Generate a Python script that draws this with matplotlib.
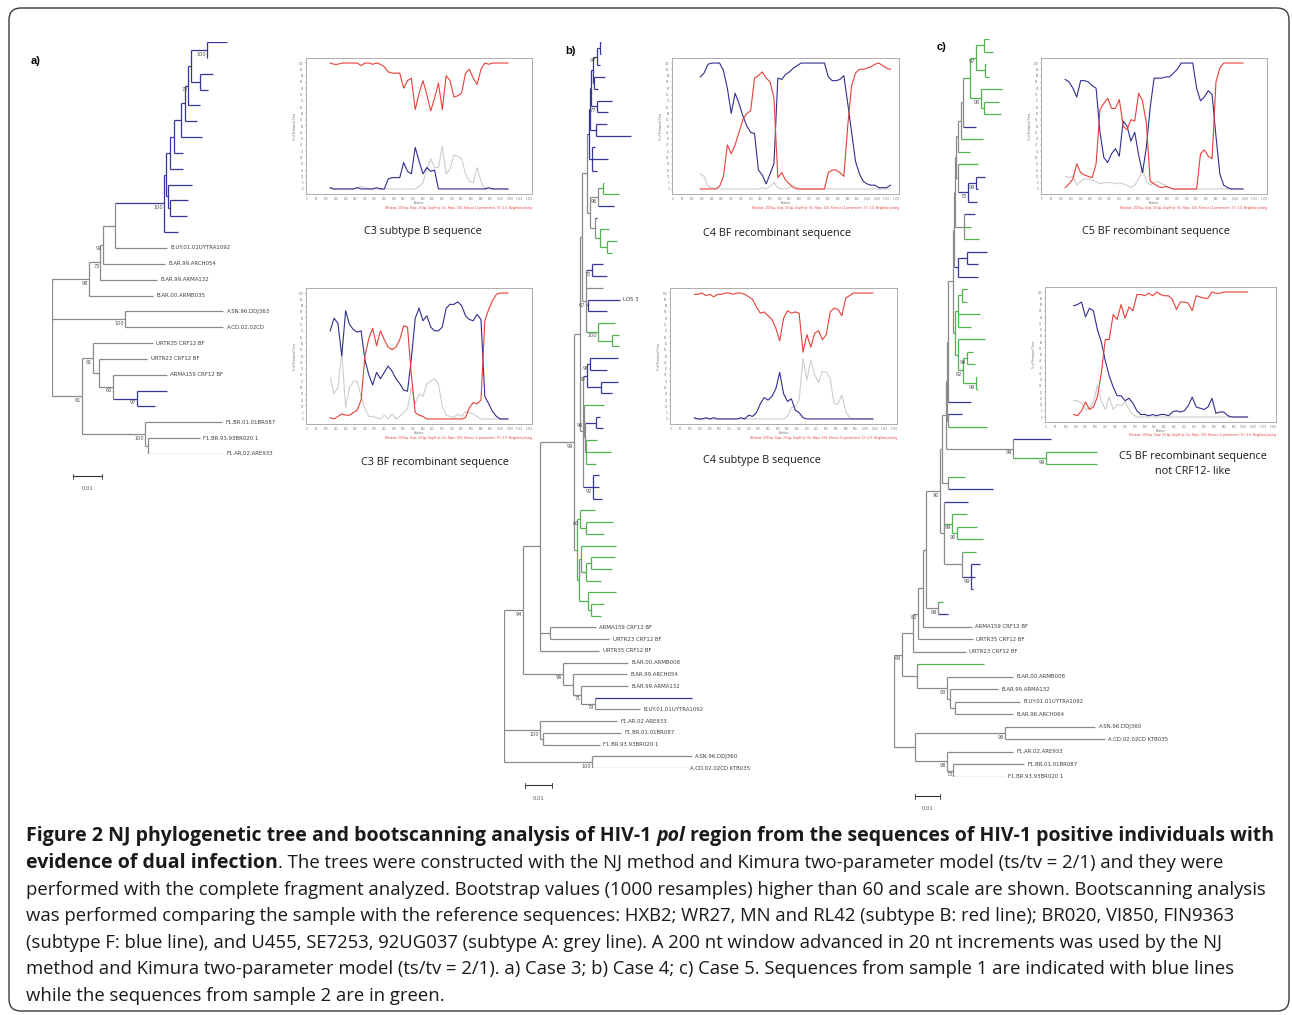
import matplotlib
matplotlib.use('Agg')
import matplotlib.pyplot as plt
from matplotlib import font_manager
from matplotlib.patches import FancyBboxPatch

W, H = 1292, 1015

# ---------------- trees (newick, branch lengths in 0.001 subst./site) ----------------
# '*' leaf = sample 1 (blue), '+' leaf = sample 2 (green), named leaves are references
A_BLUE = ("(((((((((*:6.9,*:0.2)100:5.5,(*:4.5,*:2.8):3.1):1,*:4.1)73:1,*:4.1):1.4,*:7.2):2.4,"
          "*:3.1):1.4,*:4.5):1.4,(*:8.3,(*:6.2,*:5.9):0.7):0.7):0.7,*:4.8)100:16.9")
TREE_A = ("(((((" + A_BLUE + ",B.UY.01.01UYTRA1092:17.9):4.1,B.AR.99.ARCH054:21.4)92:1,"
          "B.AR.99.ARMA132:19.7)73:3.8,B.AR.00.ARMB035:22)98:12.8,"
          "(A.SN.96.DDJ363:33.8,A.CD.02.02CD:33.8)100:25.2,"
          "((URTR35 CRF12 BF:20.7,(URTR23 CRF12 BF:16.6,(ARMA159 CRF12 BF:18.6,(*:10.3,*:6.2)97:8.3)60:4.8):2.1)81:3.8,"
          "(F1.BR.01.01BR087:26.6,(F1.BR.93.93BR020 1:17.9,F1.AR.02.ARE933:25.9):1)100:21.7)61:10.3);")

B_U3 = ("((((((*:0.4,*:0.4):1.1,*:1.1)97:1.5,(*:4.1,*:1.5):0.4):0.7,(*:5.6,*:4.1)77:2.2):0.4,"
        "(*:4.1,*:13):2.2):0.4,(*:1.1,*:5.9,*:1.9):1.1):0.7")
B_14_20 = "(((+:0.3,+:5.9):1.9,*:5.9)96:3,(*:0.7,(+:3.3,(+:3.7,+:1.9):2.6):1.9):1.9):1.1"
B_21_28 = "((*:4.1,*:5.6)73:2.2,:6.3,(*LOS 3:11.9,*:7):0.7,(+:6.3,(+:2.6,+:2.6):5.2)100:4.4)67:1.5"
B_LOW = ("(((*:10.4,*:6.3)96:1.1,(*:6.3,*:4.1):5.2)92:1.5,(+:7.4,((*:1.5,*:2.6):4.1,"
         "(+:4.1,+:9.3,+:3.7):0.4):0.4)96:0.4,(*:2.2,*:2.2,*:3.3)92:3.7):1.1")
B_GREEN = "((+:5.6,(+:10,+:6.7):2.2)60:1.1,((+:13,((+:8.9,+:7.8):1.9,+:5.6):1.9):0.7,(+:10.4,(+:4.8,+:3.7):1.1):3.3):0.7):1.1"
B_MAIN = "((((" + B_U3 + "," + B_14_20 + "):1.9," + B_21_28 + "):0.7," + B_LOW + "):2.2," + B_GREEN + ")99:12.6"
TREE_B = ("(((" + B_MAIN + ",(ARMA159 CRF12 BF:17,URTR23 CRF12 BF:22):3.7,URTR35 CRF12 BF:22):6.3,"
          "(B.AR.00.ARMB008:24,(B.AR.99.ARCH054:20,(B.AR.99.ARMA132:17.4,(*:36,B.UY.01.01UYTRA1092:16.7)79:5.2)71:3):3.7)96:14.8)94:7,"
          "(F1.AR.02.ARE933:28.5,(F1.BR.01.01BR087:29,F1.BR.93.93BR020 1:21):1.1)100:13.3,"
          "(A.SN.96.DDJ360:37,A.CD.02.02CD KTB035:35)100:32.6);")

C_TOP = "(((+:2,+:3.6):3.2,(+:0.4,+:1.6):3.6)97:2.4,(+:8.4,(+:6,+:6.8):1.2)90:4.4):2.8"
C_11_14 = "(+:8,((*:3.6,*:0.8)99:3.2,*:3.6)73:4):0.8"
C_15_20 = ["(*:4.4,+:2.8,+:6):3.6", "((*:8,*:4.4):3.6,*:8):1.6"]
C_21_29 = "(((+:2,+:2):1.6,+:8.8,+:5.2):1.2,(+:10.8,((+:2.4,+:3.2)99:1.6,(+:0.4,+:0.8)99:5.2)62:2):1.2):0.8"
C_34_36 = "(*:15.2,(+:20.4,+:20.4)99:13.2)99:26.8"
C_LOW = "(*:9.6,(+:6,(+:8,+:10.4)90:2)99:3.2,(+:5.6,(*:3.6,*:1.6,*:0.8)99:3.6):7.2):1.6"
C_MAIN = ("((((((((((((" + C_TOP + ",*:5.2):0.8,+:8.8):1.2,+:4.8):0.8," + C_11_14 + "):0.4,"
          + C_15_20[0] + "):0.4," + C_15_20[1] + "):0.2," + C_21_29 + "):2,*:9.2):0.4,(*:5.6,+:15.6):0.4):0.4,"
          + C_34_36 + "):1.6,(+:6.8,*:18):2.4):0.8," + C_LOW + ")90:5.6")
TREE_C = ("((((((" + C_MAIN + ",(+:2,*:4)99:4.8):1.2,ARMA159 CRF12 BF:19.6):2,URTR35 CRF12 BF:22)80:2,"
          "URTR23 CRF12 BF:21.2):4.4,(+:26.8,(B.AR.00.ARMB008:26.4,(B.AR.99.ARMA132:19.2,"
          "(B.UY.01.01UYTRA1092:26,B.AR.96.ARCH064:23.2):2):1.2)93:12):6)64:3.2,"
          "((A.SN.96.DDJ360:36,A.CD.02.02CD KTB035:40)99:36,(F1.AR.02.ARE933:26.4,"
          "(F1.BR.01.01BR087:28.4,F1.BR.93.93BR020 1:20.8)73:2.4)98:12.8):8.4);")

# ---------------- bootscan data (% of permuted trees) ----------------
POS_A = list(range(120, 1041, 20))
POS_C4BF = list(range(140, 1121, 20))
POS_C5NC = list(range(140, 1021, 20))

C3B_red = [100, 99, 99, 100, 100, 100, 100, 100, 98, 100, 100, 99, 100, 99, 97, 93, 92, 92, 92, 80,
           86, 88, 63, 76, 86, 75, 62, 72, 84, 63, 90, 86, 73, 74, 76, 92, 95, 88, 83, 95,
           100, 99, 100, 100, 100, 100, 100]
C3B_blue = [1, 0, 0, 0, 0, 0, 0, 1, 0, 0, 0, 0, 1, 0, 0, 8, 9, 9, 9, 21,
            14, 12, 33, 22, 12, 17, 14, 15, 0, 0, 0, 0, 0, 0, 0, 0, 0, 0, 0, 0,
            0, 1, 0, 0, 0, 0, 0]
C3B_grey = [0, 0, 0, 0, 0, 0, 0, 1, 2, 1, 0, 0, 0, 0, 0, 0, 0, 0, 0, 0,
            0, 0, 0, 2, 5, 16, 24, 17, 17, 34, 12, 16, 27, 26, 24, 12, 6, 5, 17, 6,
            0, 0, 0, 0, 0, 0, 0]

C3BF_red = [1, 0, 2, 4, 3, 3, 5, 7, 15, 50, 64, 72, 58, 70, 63, 57, 55, 57, 63, 74,
            73, 35, 5, 3, 2, 0, 0, 0, 0, 0, 0, 0, 0, 0, 0, 1, 9, 13, 12, 15,
            78, 87, 94, 99, 100, 100, 100]
C3BF_blue = [70, 80, 76, 50, 86, 75, 71, 69, 70, 47, 35, 27, 37, 32, 37, 42, 38, 32, 28, 23,
             22, 48, 80, 88, 78, 82, 73, 70, 70, 73, 88, 91, 91, 93, 90, 82, 79, 78, 83, 79,
             18, 12, 6, 2, 0, 0, 0]
C3BF_grey = [33, 20, 25, 53, 9, 25, 30, 30, 18, 8, 2, 2, 1, 0, 3, 0, 4, 0, 2, 5,
             8, 25, 12, 20, 18, 28, 30, 32, 28, 10, 3, 2, 1, 4, 2, 6, 5, 4, 2, 0,
             0, 0, 0, 0, 0, 0, 0]

C4BF_red = [0, 0, 0, 0, 0, 2, 10, 35, 28, 35, 45, 55, 60, 62, 88, 90, 93, 88, 85, 72,
            9, 13, 7, 4, 1, 0, 0, 0, 0, 0, 0, 0, 0, 13, 15, 15, 13, 10, 50, 82,
            92, 95, 95, 96, 97, 99, 100, 98, 96, 95]
C4BF_blue = [89, 92, 99, 100, 100, 100, 94, 80, 60, 76, 68, 58, 50, 45, 44, 15, 11, 4, 12, 20,
             88, 87, 91, 93, 96, 98, 100, 100, 100, 100, 100, 100, 100, 89, 86, 86, 87, 90, 68, 45,
             22, 12, 6, 4, 3, 3, 1, 1, 1, 3]
C4BF_grey = [12, 10, 2, 1, 0, 0, 0, 0, 0, 0, 0, 0, 0, 0, 0, 0, 1, 0, 2, 5,
             1, 0, 0, 1, 3, 1, 0, 0, 0, 0, 0, 0, 0, 0, 0, 0, 0, 0, 0, 0,
             0, 0, 0, 0, 0, 0, 0, 0, 0, 0]

C4B_red = [99, 99, 100, 98, 99, 97, 99, 99, 100, 100, 99, 100, 100, 99, 97, 95, 89, 84, 85, 82,
           79, 72, 62, 80, 86, 84, 85, 84, 53, 67, 57, 68, 70, 63, 67, 85, 88, 87, 82, 96,
           98, 100, 100, 100, 100, 100, 100]
C4B_blue = [1, 0, 0, 1, 0, 1, 0, 0, 0, 0, 0, 0, 1, 0, 3, 2, 5, 12, 17, 15,
            18, 24, 37, 20, 14, 16, 7, 5, 1, 0, 0, 0, 0, 0, 0, 0, 0, 0, 0, 0,
            0, 0, 0, 0, 0, 0, 0]
C4B_grey = [0, 0, 0, 0, 0, 0, 0, 0, 0, 0, 0, 0, 0, 0, 0, 0, 0, 0, 0, 0,
            0, 0, 0, 0, 2, 9, 10, 15, 48, 31, 47, 35, 29, 38, 37, 32, 12, 12, 19, 6,
            1, 0, 0, 0, 0, 0, 0]

C5BF_red = [1, 4, 8, 20, 13, 11, 10, 9, 20, 63, 68, 72, 64, 64, 71, 50, 47, 55, 54, 76,
            70, 52, 6, 4, 2, 1, 2, 1, 0, 0, 0, 0, 0, 0, 0, 28, 31, 26, 24, 85,
            96, 100, 100, 100, 100, 100, 100]
C5BF_blue = [87, 85, 80, 73, 86, 86, 85, 82, 80, 45, 25, 21, 28, 32, 26, 54, 50, 38, 45, 27,
             13, 33, 65, 88, 88, 88, 89, 89, 92, 95, 100, 100, 100, 100, 80, 70, 73, 78, 75, 42,
             12, 3, 1, 0, 0, 0, 0]
C5BF_grey = [10, 9, 10, 3, 6, 8, 8, 7, 6, 4, 5, 5, 5, 4, 5, 4, 3, 1, 3, 8,
             16, 6, 3, 5, 6, 4, 3, 1, 0, 0, 0, 0, 0, 0, 0, 0, 0, 0, 0, 0,
             0, 0, 0, 0, 0, 0, 0]

C5NC_red = [2, 1, 5, 12, 6, 8, 16, 35, 62, 62, 82, 78, 90, 79, 88, 85, 98, 98, 97, 99,
            97, 100, 98, 97, 97, 94, 86, 92, 92, 91, 85, 97, 96, 95, 95, 100, 99, 99, 100, 100,
            100, 100, 100, 100, 100]
C5NC_blue = [89, 90, 92, 80, 87, 85, 70, 60, 45, 33, 24, 17, 17, 13, 15, 11, 5, 2, 2, 1,
             2, 1, 2, 2, 1, 4, 5, 4, 5, 9, 16, 8, 7, 6, 8, 15, 3, 4, 4, 1,
             0, 0, 0, 0, 0]
C5NC_grey = [13, 13, 11, 6, 7, 12, 25, 13, 6, 16, 6, 10, 9, 12, 6, 2, 0, 0, 0, 0,
             0, 0, 0, 0, 0, 0, 0, 0, 0, 0, 0, 0, 0, 0, 0, 0, 0, 0, 0, 0,
             0, 0, 0, 0, 0]

FOOTNOTE = "Window: 200 bp, Step: 20 bp, GapStrip: On, Reps: 100, Kimura (2-parameter), T/t: 2.0, Neighbor-Joining"

CAPTION = [
    [("Figure 2 NJ phylogenetic tree and bootscanning analysis of HIV-1 ", "bold", "normal"),
     ("pol", "bold", "italic"),
     (" region from the sequences of HIV-1 positive individuals with", "bold", "normal")],
    [("evidence of dual infection", "bold", "normal"),
     (". The trees were constructed with the NJ method and Kimura two-parameter model (ts/tv = 2/1) and they were", "normal", "normal")],
    [("performed with the complete fragment analyzed. Bootstrap values (1000 resamples) higher than 60 and scale are shown. Bootscanning analysis", "normal", "normal")],
    [("was performed comparing the sample with the reference sequences: HXB2; WR27, MN and RL42 (subtype B: red line); BR020, VI850, FIN9363", "normal", "normal")],
    [("(subtype F: blue line), and U455, SE7253, 92UG037 (subtype A: grey line). A 200 nt window advanced in 20 nt increments was used by the NJ", "normal", "normal")],
    [("method and Kimura two-parameter model (ts/tv = 2/1). a) Case 3; b) Case 4; c) Case 5. Sequences from sample 1 are indicated with blue lines", "normal", "normal")],
    [("while the sequences from sample 2 are in green.", "normal", "normal")],
]


def have(fam):
    try:
        font_manager.findfont(fam, fallback_to_default=False)
        return True
    except Exception:
        return False

NARROW = 'Liberation Sans Narrow' if have('Liberation Sans Narrow') else 'DejaVu Sans'
CAPF = 'Open Sans' if have('Open Sans') else 'DejaVu Sans'

TREE_COL = {'b': '#35359a', 'g': '#4fb34f', 'r': '#8a8a8a'}
RED, BLUE, GREY = '#e5403a', '#2f2f8e', '#cdcdcd'


def parse(s):
    pos = 0

    def node():
        nonlocal pos
        while s[pos] == ' ':
            pos += 1
        kids = []
        if s[pos] == '(':
            pos += 1
            kids.append(node())
            while s[pos] == ',':
                pos += 1
                kids.append(node())
            pos += 1
        start = pos
        while s[pos] not in ':,);':
            pos += 1
        name = s[start:pos].strip()
        length = 0.0
        if s[pos] == ':':
            pos += 1
            start = pos
            while s[pos] not in ',);':
                pos += 1
            length = float(s[start:pos])
        return {'name': name, 'len': length, 'kids': kids}
    return node()


def place(t, x0, leaves):
    t['x'] = x0 + t['len']
    if not t['kids']:
        t['y'] = len(leaves)
        leaves.append(t)
    else:
        for k in t['kids']:
            place(k, t['x'], leaves)
        t['y'] = (t['kids'][0]['y'] + t['kids'][-1]['y']) / 2


def group(t):
    if not t['kids']:
        n = t['name']
        t['grp'] = 'b' if n.startswith('*') else ('g' if n.startswith('+') else 'r')
    else:
        gs = {group(k) for k in t['kids']}
        t['grp'] = gs.pop() if len(gs) == 1 else 'r'
    return t['grp']


def box(x0, y0, x1, y1):
    return [x0 / W, 1 - y1 / H, (x1 - x0) / W, (y1 - y0) / H]


fig = plt.figure(figsize=(W / 100, H / 100), dpi=100)
ax0 = fig.add_axes([0, 0, 1, 1])
ax0.set_xlim(0, W)
ax0.set_ylim(H, 0)
ax0.axis('off')
ax0.add_patch(FancyBboxPatch((9, 8), 1280, 1003, boxstyle='round,pad=0,rounding_size=12',
                             fill=False, ec='#3a3a3a', lw=1.0))


def draw_nodes(ax, t):
    for k in t['kids']:
        ax.plot([t['x'], k['x']], [k['y'], k['y']], color=TREE_COL[k['grp']], lw=0.9,
                solid_capstyle='butt')
        draw_nodes(ax, k)
    if t['kids']:
        ys = [k['y'] for k in t['kids']]
        ax.plot([t['x'], t['x']], [min(ys), max(ys)], color=TREE_COL[t['grp']], lw=0.9,
                solid_capstyle='butt')
        if t['name']:
            ax.annotate(t['name'], (t['x'], t['y']), xytext=(-0.4, -1.2), textcoords='offset points',
                        ha='right', va='top', fontsize=3.6, color='#555555', family=NARROW)
    else:
        lab = t['name'].lstrip('*+')
        if lab:
            ax.annotate(lab, (t['x'], t['y']), xytext=(2.5, 0), textcoords='offset points',
                        ha='left', va='center', fontsize=3.9, color='#404040', family=NARROW)


def draw_tree(nwk, root_x, top_y, bot_y, ppu, bar_y):
    tree = parse(nwk)
    leaves = []
    place(tree, 0.0, leaves)
    group(tree)
    n = len(leaves)
    ax = fig.add_axes(box(root_x, top_y, root_x + 100 * ppu, bot_y))
    ax.set_xlim(0, 100)
    ax.set_ylim(n - 1, 0)
    ax.axis('off')
    draw_nodes(ax, tree)
    # scale bar (0.01 = 10 units)
    bx = root_x + 21
    L = 10 * ppu
    ax0.plot([bx, bx + L], [bar_y, bar_y], color='#333333', lw=0.8)
    ax0.plot([bx, bx], [bar_y - 2.5, bar_y + 2.5], color='#333333', lw=0.6)
    ax0.plot([bx + L, bx + L], [bar_y - 2.5, bar_y + 2.5], color='#333333', lw=0.6)
    ax0.text(bx + L / 2, bar_y + 13, '0.01', ha='center', va='center', fontsize=3.8,
             color='#555555', family=NARROW)


draw_tree(TREE_A, 52, 42, 454, 2.9, 476)
draw_tree(TREE_B, 504, 42, 768, 2.7, 785)
draw_tree(TREE_C, 894, 39, 777, 2.5, 796)

ax0.text(31, 61, 'a)', fontsize=8, fontweight='bold', va='center', family='Liberation Sans')
ax0.text(565, 51, 'b)', fontsize=8, fontweight='bold', va='center', family='Liberation Sans')
ax0.text(937, 47, 'c)', fontsize=8, fontweight='bold', va='center', family='Liberation Sans')


def bootscan(frame, pos, red, blue, grey, title, title_xy):
    ax = fig.add_axes(box(*frame))
    ax.plot(pos, grey, color=GREY, lw=0.8)
    ax.plot(pos, blue, color=BLUE, lw=0.8)
    ax.plot(pos, red, color=RED, lw=0.8)
    ax.set_xlim(-5, 1164)
    ax.set_ylim(-4, 104)
    xt = list(range(0, 1151, 50))
    ax.set_xticks(xt)
    ax.set_xticklabels([f'{v:,}' for v in xt])
    ax.set_yticks(list(range(0, 101, 5)))
    ax.tick_params(labelsize=1.8, length=1.0, width=0.3, pad=0.8, colors='#777777')
    for s in ax.spines.values():
        s.set_color('#a0a0a0')
        s.set_linewidth(0.6)
    ax.set_xlabel('Position', fontsize=1.9, labelpad=0.4, color='#666666')
    ax.set_ylabel('% of Permuted Trees', fontsize=1.9, labelpad=1.0, color='#666666')
    ax.text(1.0, -0.085, FOOTNOTE, transform=ax.transAxes, ha='right', va='top',
            fontsize=2.1, color='#e34040')
    for i, line in enumerate(title):
        ax0.text(title_xy[0], title_xy[1] + i * 15, line, ha='center', va='center',
                 fontsize=7.8, color='#1a1a1a', family=CAPF)


bootscan((306, 58, 532, 194), POS_A, C3B_red, C3B_blue, C3B_grey, ['C3 subtype B sequence'], (423, 231))
bootscan((306, 288, 532, 424), POS_A, C3BF_red, C3BF_blue, C3BF_grey, ['C3 BF recombinant sequence'], (435, 462))
bootscan((672, 58, 899, 194), POS_C4BF, C4BF_red, C4BF_blue, C4BF_grey, ['C4 BF recombinant sequence'], (777, 233))
bootscan((670, 288, 897, 424), POS_A, C4B_red, C4B_blue, C4B_grey, ['C4 subtype B sequence'], (762, 461))
bootscan((1041, 58, 1267, 194), POS_A, C5BF_red, C5BF_blue, C5BF_grey, ['C5 BF recombinant sequence'], (1156, 231))
bootscan((1045, 287, 1276, 422), POS_C5NC, C5NC_red, C5NC_blue, C5NC_grey,
         ['C5 BF recombinant sequence', 'not CRF12- like'], (1193, 456))

# ---------------- caption ----------------
renderer = fig.canvas.get_renderer()


def width(txt, fs, weight='normal', style='normal'):
    t = ax0.text(0, 0, txt, fontsize=fs, fontweight=weight, style=style, family=CAPF)
    w = t.get_window_extent(renderer).width
    t.remove()
    return w

# regular size fitted to line 3, bold size fitted to the bold first line
reg_fs = 10 * 1239 / width(CAPTION[2][0][0], 10)
bold_fs = 10 * 1252 / width(''.join(p[0] for p in CAPTION[0]), 10, 'bold')
line_y = [836, 863, 890, 916, 943, 969, 996]
for y, parts in zip(line_y, CAPTION):
    x = 26
    for txt, wt, st in parts:
        fs = bold_fs if wt == 'bold' else reg_fs
        sp = width('n n', fs, wt, st) - width('nn', fs, wt, st)
        lead = len(txt) - len(txt.lstrip(' '))
        trail = len(txt) - len(txt.rstrip(' '))
        core = txt.strip(' ')
        x += lead * sp
        ax0.text(x, y, core, fontsize=fs, fontweight=wt, style=st, family=CAPF,
                 ha='left', va='center', color='#1a1a1a')
        x += width(core, fs, wt, st) + trail * sp

fig.savefig('out.png', dpi=100)
